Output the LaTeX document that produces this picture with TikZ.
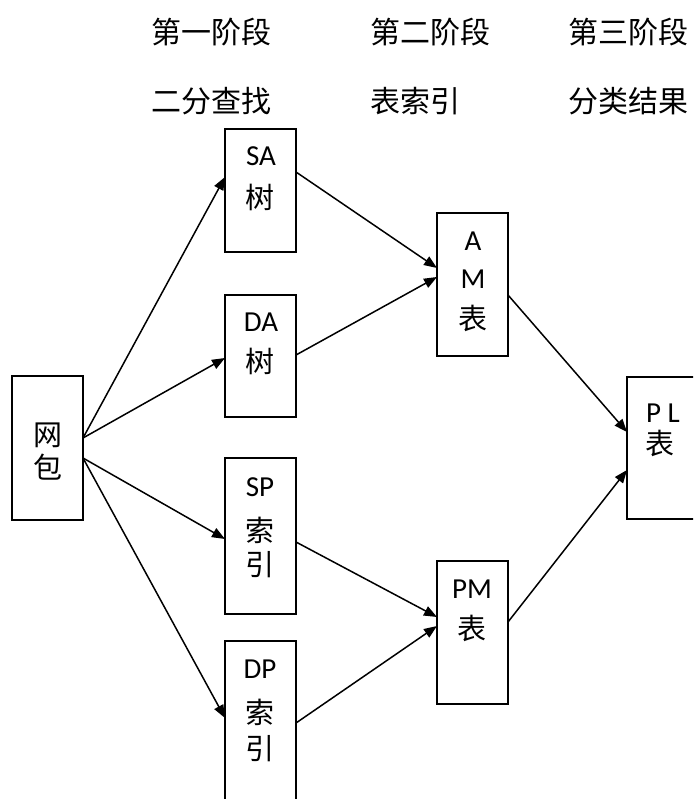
\documentclass[tikz,border=0pt]{standalone}
\usepackage{fontspec}
\setmainfont{Carlito}
\newfontfamily\cjk{Noto Sans CJK SC}
\usetikzlibrary{arrows.meta}
\begin{document}
\begin{tikzpicture}[x=1pt,y=-1pt,
 box/.style={draw, line width=1.5pt, minimum width=71pt, inner sep=0pt, outer sep=0pt},
 lat/.style={inner sep=0pt, font=\fontsize{29}{35}\selectfont},
 han/.style={inner sep=0pt, font=\fontsize{29}{35}\selectfont\cjk},
 head/.style={inner sep=0pt, anchor=west, font=\fontsize{30}{36}\selectfont\cjk},
 arr/.style={line width=1.5pt, -{Triangle[length=13pt,width=10pt]}}]
\useasboundingbox (0,0) rectangle (693,799);
\clip (0,0) rectangle (693,799);
% headers
\node[head] (h1) at (151,32) {第一阶段};
\node[head] (h2) at (370,32) {第二阶段};
\node[head] (h3) at (568,32) {第三阶段};
\node[head] (s1) at (151,101) {二分查找};
\node[head] (s2) at (370,101) {表索引};
\node[head] (s3) at (568,101) {分类结果};
% boxes
\node[box, minimum height=144pt] (net) at (47.5,448) {};
\node[box, minimum height=123pt] (sa) at (260.5,190.5) {};
\node[box, minimum height=122pt] (da) at (260.5,356) {};
\node[box, minimum height=156pt] (sp) at (260.5,536) {};
\node[box, minimum height=170pt] (dp) at (260.5,726) {};
\node[box, minimum height=143pt] (am) at (472.5,284.5) {};
\node[box, minimum height=143pt] (pm) at (472.5,632.5) {};
\node[box, minimum height=142pt] (pl) at (662.5,448) {};
% box texts
\node[han] (net1) at (48,435) {网};
\node[han] (net2) at (48,467) {包};
\node[lat] (sa1) at (261,156) {SA};
\node[han] (sa2) at (260,197) {树};
\node[lat] (da1) at (261,322) {DA};
\node[han] (da2) at (260,361) {树};
\node[lat] (sp1) at (260,487) {SP};
\node[han] (sp2) at (260,530) {索};
\node[han] (sp3) at (260,565) {引};
\node[lat] (dp1) at (260,669) {DP};
\node[han] (dp2) at (260,712) {索};
\node[han] (dp3) at (260,749) {引};
\node[lat] (am1) at (473,241) {A};
\node[lat] (am2) at (473,279) {M};
\node[han] (am3) at (473,318) {表};
\node[lat] (pm1) at (472,589) {PM};
\node[han] (pm2) at (472,628) {表};
\node[lat] (pl1) at (663,413) {P L};
\node[han] (pl2) at (660,443) {表};
% connectors
\draw[arr] ([yshift=-62pt]net.north east) -- ([yshift=-48pt]sa.north west);
\draw[arr] ([yshift=-62pt]net.north east) -- ([yshift=-63pt]da.north west);
\draw[arr] ([yshift=-82pt]net.north east) -- ([yshift=-81pt]sp.north west);
\draw[arr] ([yshift=-82pt]net.north east) -- ([yshift=-77pt]dp.north west);
\draw[arr] ([yshift=-43pt]sa.north east) -- ([yshift=-55pt]am.north west);
\draw[arr] ([yshift=-60pt]da.north east) -- ([yshift=-64pt]am.north west);
\draw[arr] ([yshift=-84pt]sp.north east) -- ([yshift=-56pt]pm.north west);
\draw[arr] ([yshift=-82pt]dp.north east) -- ([yshift=-65pt]pm.north west);
\draw[arr] ([yshift=-82pt]am.north east) -- ([yshift=-55pt]pl.north west);
\draw[arr] ([yshift=-61pt]pm.north east) -- ([yshift=-93pt]pl.north west);
\end{tikzpicture}
\end{document}
